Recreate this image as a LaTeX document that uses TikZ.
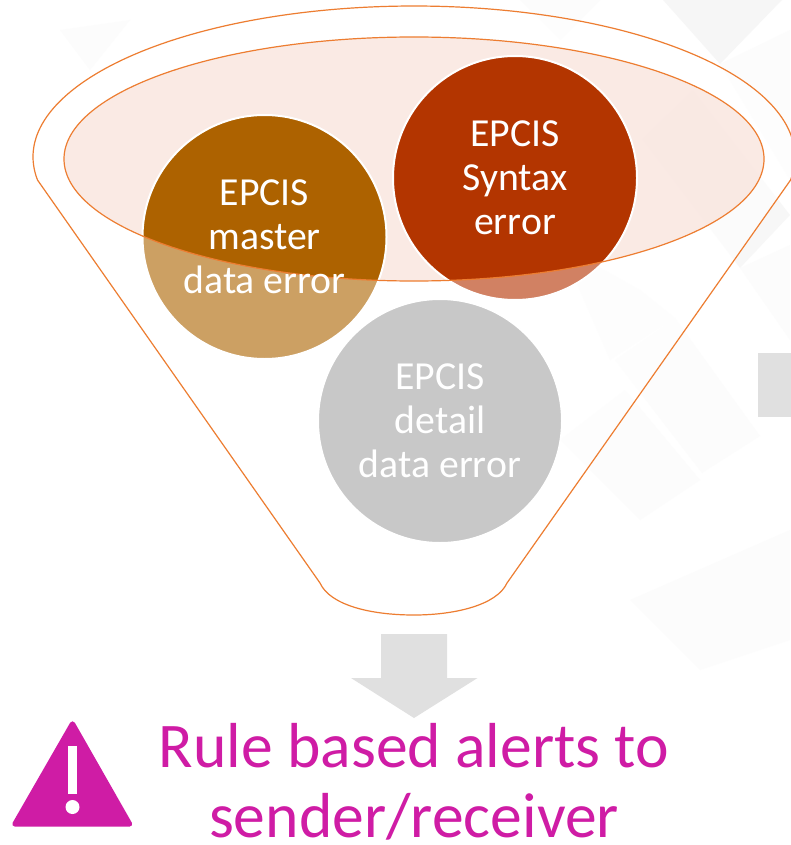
\documentclass[tikz,border=0pt]{standalone}
\usepackage{fontspec}
\setmainfont{Carlito}
\definecolor{funnel}{HTML}{ED7D31}
\definecolor{brownD}{HTML}{AD6200}
\definecolor{brownL}{HTML}{CCA063}
\definecolor{redD}{HTML}{B33500}
\definecolor{redL}{HTML}{D18163}
\definecolor{grayC}{HTML}{C8C8C8}
\definecolor{arrowG}{HTML}{E0E0E0}
\definecolor{alertM}{HTML}{CF1CA5}
\definecolor{innerF}{HTML}{F9E3DC}
\definecolor{bgD}{HTML}{EDEDED}
\tikzset{
  funnelline/.style={draw=funnel,line width=0.9pt},
  bubble/.style={draw=white,line width=1.5pt},
  bubbletext/.style={text=white,font=\fontsize{29.8}{33}\selectfont,align=center},
  alerttext/.style={text=alertM,font=\fontsize{47.7}{52.5}\selectfont,align=center},
  bgdiamond/.style={fill=bgD,fill opacity=0.16,draw=none},
}
\begin{document}
\begin{tikzpicture}[x=0.75pt,y=-0.75pt]
\useasboundingbox (0,0) rectangle (790,845);
\fill[white] (0,0) rectangle (790,845);
% faint background
\begin{scope}
\clip (0,0) rectangle (790,845);
\fill[bgdiamond,fill opacity=0.45] (663,0) -- (782,0) -- (720,64) -- cycle;
\fill[bgdiamond,fill opacity=0.4] (642,139) -- (693,90) -- (790,215) -- (740,268) -- cycle;
\fill[bgdiamond] (790,30) -- (790,180) -- (720,64) -- cycle;
\fill[bgdiamond] (560,245) -- (640,290) -- (675,318) -- (610,360) -- cycle;
\fill[bgdiamond] (740,268) -- (790,340) -- (790,245) -- cycle;
\fill[bgdiamond] (675,318) -- (760,436) -- (702,473) -- (615,360) -- cycle;
\fill[bgdiamond] (625,390) -- (700,480) -- (640,520) -- (560,440) -- cycle;
\fill[bgdiamond] (520,0) -- (600,0) -- (560,40) -- cycle;
\fill[bgdiamond] (60,30) -- (130,20) -- (90,70) -- cycle;
\fill[bgdiamond] (630,600) -- (790,530) -- (790,640) -- (700,670) -- cycle;
\end{scope}
% funnel outline
\path[funnelline,fill=white,fill opacity=0.6]
  (37.5,180) arc[start angle=171.24,end angle=368.76,x radius=381,y radius=151]
  -- (507,583)
  .. controls (497,605) and (455,615) .. (414,615)
  .. controls (370,615) and (330,605) .. (320,583)
  -- cycle;
% bubbles, light parts
\path[bubble,fill=grayC] (440,421) circle[radius=122];
\path[bubble,fill=brownL] (264.5,237) circle[radius=122];
\path[bubble,fill=redL] (515,178) circle[radius=122];
% funnel mouth
\path[fill=innerF,fill opacity=0.75] (414,159) ellipse[x radius=350,y radius=122];
\begin{scope}
\clip (414,159) ellipse[x radius=350,y radius=122];
\path[bubble,fill=brownD] (264.5,237) circle[radius=122];
\path[bubble,fill=redD] (515,178) circle[radius=122];
\end{scope}
\draw[funnelline] (414,159) ellipse[x radius=350,y radius=122];
% bubble labels
\node[bubbletext] (master) at (264.5,237) {EPCIS\\master\\data error};
\node[bubbletext] (syntax) at (515,178) {EPCIS\\Syntax\\error};
\node[bubbletext] (detail) at (440,421) {EPCIS\\detail\\data error};
% partial grey block at right edge
\path[fill=arrowG,draw=white,line width=1.2pt] (757,352) rectangle (800,418);
% block arrow
\fill[arrowG] (381,634) -- (447,634) -- (447,678) -- (477.5,678) -- (414,718) -- (351,678) -- (381,678) -- cycle;
% warning sign
\path[fill=alertM,draw=alertM,line width=4pt,line join=round] (72.5,724) -- (129.5,824) -- (15,824) -- cycle;
\fill[white] (68,746) rectangle (77,794);
\fill[white] (72.5,807) ellipse[x radius=7,y radius=7];
% alert text
\node[alerttext,anchor=center] (alert) at (414,782) {Rule based alerts to\\sender/receiver};
\end{tikzpicture}
\end{document}
